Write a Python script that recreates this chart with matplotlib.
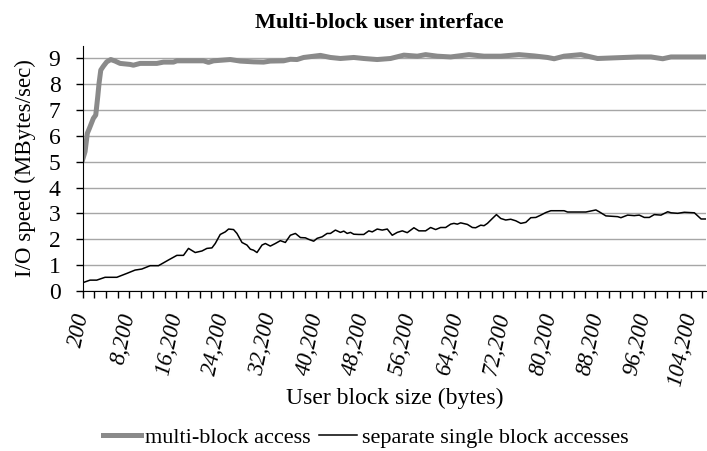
import matplotlib
matplotlib.use('Agg')
import matplotlib.pyplot as plt
import matplotlib.ticker as ticker

plt.rcParams['font.family'] = ['Liberation Serif', 'DejaVu Serif']

# block size (bytes) / speed (MBytes/sec)
multi_x = [200, 600, 990, 1340, 2020, 2430, 2770, 2990, 3290, 3730, 4310, 5000,
           5740, 6590, 8310, 8870, 10020, 12880, 14020, 15730, 16310, 20870,
           21730, 22580, 25450, 27160, 29440, 31150, 32300, 34580, 35730, 36880,
           38010, 40870, 42590, 44300, 46580, 48290, 50590, 52870, 55150, 57450,
           58870, 60870, 63160, 66290, 68870, 71730, 74860, 77430, 79730, 80870,
           82570, 85440, 88300, 91730, 95150, 97440, 99440, 100860, 107210]
multi_y = [5.09, 5.39, 6.10, 6.29, 6.68, 6.81, 7.52, 8.03, 8.55, 8.70, 8.87, 8.96,
           8.90, 8.81, 8.77, 8.74, 8.81, 8.81, 8.86, 8.86, 8.91, 8.91,
           8.85, 8.91, 8.96, 8.90, 8.87, 8.86, 8.90, 8.91, 8.97, 8.96,
           9.04, 9.12, 9.04, 9.00, 9.04, 9.00, 8.96, 9.00, 9.13, 9.09,
           9.15, 9.09, 9.06, 9.15, 9.09, 9.09, 9.15, 9.10, 9.04, 8.99,
           9.09, 9.15, 9.00, 9.03, 9.06, 9.06, 8.99, 9.06, 9.06]

single_x = [200, 1450, 2600, 4020, 6030, 7740, 9160, 10310, 11740, 13160, 14020,
            14870, 16310, 17440, 18300, 19450, 20600, 21450, 22310, 22880, 23730,
            24590, 25160, 26010, 26590, 27450, 28300, 28880, 29440, 30020, 30880,
            31450, 32300, 33160, 34020, 34870, 35730, 36590, 37450, 38300, 38870,
            39720, 40310, 41170, 42020, 42590, 43440, 44300, 44870, 45450, 46020,
            46580, 47440, 48290, 49150, 49740, 50590, 51450, 52310, 53160, 54020,
            54880, 55730, 56870, 57720, 58870, 59730, 60590, 61440, 62300, 63160,
            63720, 64300, 64870, 66020, 66870, 67440, 68300, 68870, 69450, 70300,
            70990, 71730, 72580, 73440, 74300, 75160, 76020, 76870, 77730, 78580,
            79440, 80300, 81160, 82570, 83160, 84580, 86300, 88010, 88570, 89720,
            91730, 92290, 93440, 94570, 95430, 96290, 97150, 98000, 99150, 100300,
            100860, 102010, 103140, 104860, 106010, 107210]
single_y = [0.31, 0.41, 0.41, 0.52, 0.52, 0.67, 0.80, 0.84, 0.97, 0.97, 1.08,
            1.19, 1.37, 1.37, 1.64, 1.48, 1.54, 1.64, 1.66, 1.83, 2.18,
            2.28, 2.39, 2.37, 2.22, 1.87, 1.77, 1.61, 1.57, 1.48, 1.77,
            1.83, 1.73, 1.83, 1.94, 1.87, 2.15, 2.22, 2.06, 2.05, 1.99,
            1.92, 2.03, 2.09, 2.22, 2.22, 2.35, 2.26, 2.31, 2.22, 2.26,
            2.19, 2.18, 2.18, 2.32, 2.28, 2.39, 2.35, 2.39, 2.15, 2.26,
            2.32, 2.25, 2.44, 2.32, 2.32, 2.45, 2.37, 2.45, 2.45, 2.58,
            2.61, 2.58, 2.63, 2.57, 2.45, 2.44, 2.54, 2.52, 2.61, 2.80,
            2.95, 2.80, 2.74, 2.77, 2.71, 2.61, 2.65, 2.83, 2.84, 2.93,
            3.03, 3.10, 3.10, 3.10, 3.05, 3.05, 3.05, 3.13, 3.06, 2.90,
            2.87, 2.83, 2.93, 2.91, 2.93, 2.84, 2.84, 2.95, 2.93, 3.06,
            3.02, 3.00, 3.04, 3.02, 2.78, 2.78]

fig = plt.figure(figsize=(7.07, 4.51), dpi=100)
ax = fig.add_axes([0.117, 0.3554, 0.882, 0.5435])

ax.plot(multi_x, multi_y, color='#8a8a8a', lw=3.6, solid_joinstyle='round',
        label='multi-block access')
ax.plot(single_x, single_y, color='black', lw=1.1, label='separate single block accesses')

ax.set_xlim(200, 106900)
ax.set_ylim(0, 9.5)
ax.set_yticks(range(0, 10))
ax.yaxis.grid(True, color='#a6a6a6', lw=1)
ax.set_axisbelow(True)

ax.xaxis.set_major_locator(ticker.FixedLocator(range(200, 106201, 8000)))
ax.xaxis.set_minor_locator(ticker.FixedLocator(range(200, 106201, 2000)))
ax.xaxis.set_major_formatter(ticker.FuncFormatter(lambda v, p: '{:,}'.format(int(v))))
ax.tick_params(axis='x', which='both', direction='out', length=5, width=1, colors='black', pad=11)
ax.tick_params(axis='y', direction='out', length=5, width=1, labelsize=17, pad=11)
for lbl in ax.get_xticklabels():
    lbl.set_rotation(78)
    lbl.set_ha('right')
    lbl.set_va('center')
    lbl.set_rotation_mode('anchor')
    lbl.set_fontsize(16.5)
    lbl.set_style('italic')

for s in ['top', 'right']:
    ax.spines[s].set_visible(False)
ax.spines['left'].set_color('black')
ax.spines['bottom'].set_color('black')

fig.text(0.537, 0.949, 'Multi-block user interface', fontsize=16, fontweight='bold',
         ha='center', va='center')
ax.set_ylabel('I/O speed (MBytes/sec)', fontsize=16.5, labelpad=9)
ax.set_xlabel('User block size (bytes)', fontsize=17, labelpad=0)

fig.legend(loc='center', bbox_to_anchor=(0.517, 0.03), ncol=2, frameon=False,
           fontsize=16, handlelength=1.7, handletextpad=0.2, columnspacing=0.4)

plt.savefig('out.png', dpi=100)
